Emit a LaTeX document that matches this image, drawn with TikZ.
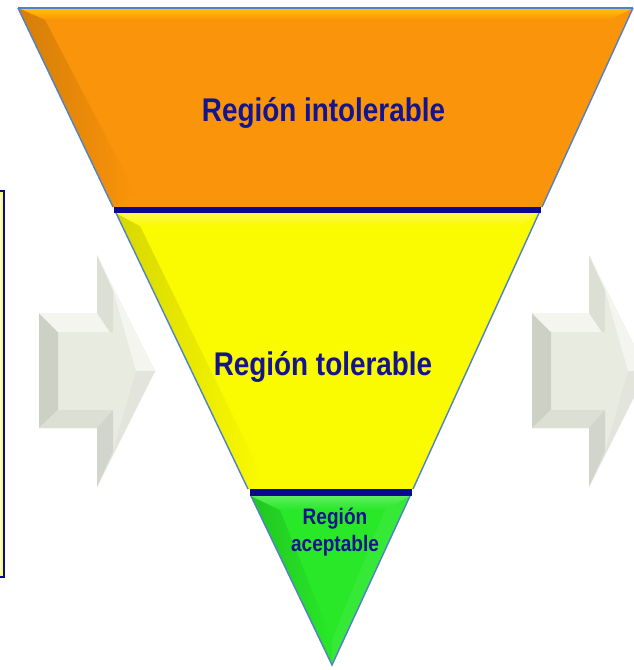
\documentclass[tikz,border=0pt]{standalone}
\usepackage{fontspec}
\newfontfamily\narrowbf{Liberation Sans Bold}[FakeStretch=0.85]
\definecolor{orng}{RGB}{250,148,10}
\definecolor{ylw}{RGB}{250,250,0}
\definecolor{grn}{RGB}{40,232,40}
\definecolor{navy}{RGB}{10,10,140}
\definecolor{txtblue}{RGB}{20,20,140}
\definecolor{edgeblue}{RGB}{80,130,200}
\definecolor{arrmid}{RGB}{232,235,224}
\definecolor{arrlight}{RGB}{243,245,238}
\definecolor{arrdark}{RGB}{205,208,197}
\definecolor{arrside}{RGB}{220,223,212}
\tikzset{
  bigtext/.style={font=\narrowbf\fontsize{32.8}{36}\selectfont, text=txtblue, inner sep=0pt, anchor=base},
  smalltext/.style={font=\narrowbf\fontsize{22.4}{30}\selectfont, text=txtblue, inner sep=0pt, align=center},
  bar/.style={draw=navy, line width=6.5pt},
  edge/.style={draw=edgeblue, line width=1.4pt, line join=miter},
}
\begin{document}
\begin{tikzpicture}[x=1pt,y=-1pt]
\useasboundingbox (0,0) rectangle (634,670);
\clip (0,0) rectangle (634,670);
\fill[white] (0,0) rectangle (634,670);

% left partial box
\draw[draw=navy, line width=1.8pt, fill=ylw!60!white] (-30,191) rectangle (4,577);
\fill[white] (-30,195) rectangle (0.5,573);

% corner coordinates of the triangle
\coordinate (TL) at (18,8);
\coordinate (TR) at (633,8);
\coordinate (AP) at (332,665);
\coordinate (L1) at (113,207);
\coordinate (R1) at (542,207);
\coordinate (L2) at (116,213);
\coordinate (R2) at (539,213);
\coordinate (L3) at (248,489);
\coordinate (R3) at (413,489);
\coordinate (L4) at (251,496);
\coordinate (R4) at (410,496);

% orange band
\fill[orng] (TL) -- (TR) -- (R1) -- (L1) -- cycle;
\shade[top color=orng!55!yellow, bottom color=orng] (TL) -- (TR) -- (610,20) -- (45,20) -- cycle;
\shade[left color=orng!85!black, right color=orng] (TL) -- (45,20) -- (135,192) -- (L1) -- cycle;

% yellow band
\fill[ylw] (L2) -- (R2) -- (R3) -- (L3) -- cycle;
\shade[left color=ylw!86!black, right color=ylw] (L2) -- (140,226) -- (262,475) -- (L3) -- cycle;
\shade[top color=ylw!70!white, bottom color=ylw] (L2) -- (R2) -- (520,226) -- (140,226) -- cycle;

% green band
\fill[grn] (L4) -- (R4) -- (AP) -- cycle;
\shade[left color=grn!85!black, right color=grn] (L4) -- (280,510) -- (332,640) -- (AP) -- cycle;
\shade[top color=grn!75!white, bottom color=grn] (L4) -- (R4) -- (385,510) -- (280,510) -- cycle;
\fill[grn!88!white, opacity=0.6] (R4) -- (385,510) -- (332,640) -- (AP) -- cycle;

% separating bars
\draw[bar] (113.5,210) -- (540.5,210);
\draw[bar] (250,492.5) -- (411.5,492.5);

% triangle outline
\draw[edge] (TL) -- (TR);
\draw[edge] (TL) -- (L1);
\draw[edge] (L2) -- (L3);
\draw[edge] (L4) -- (AP) -- (R4);
\draw[edge] (R3) -- (R2);
\draw[edge] (R1) -- (TR);

% texts
\node[bigtext] (t1) at (323.5,121.7) {Región intolerable};
\node[bigtext] (t2) at (323,375) {Región tolerable};
\node[smalltext] (t3) at (335,532) {Región\\[-3pt]aceptable};

% left 3D arrow
\fill[arrmid] (39,313) -- (97,313) -- (97,255) -- (155,371) -- (97,487) -- (97,428) -- (39,428) -- cycle;
\fill[arrdark] (39,313) -- (58,332) -- (58,410) -- (39,428) -- cycle;
\fill[arrlight] (39,313) -- (97,313) -- (110,332) -- (58,332) -- cycle;
\fill[arrside] (97,313) -- (97,255) -- (113,290) -- (113,332) -- (110,332) -- cycle;
\fill[arrlight] (97,255) -- (155,371) -- (136,371) -- (113,290) -- cycle;
\fill[arrside] (39,428) -- (58,410) -- (113,410) -- (97,428) -- cycle;
\fill[arrdark!90!white] (97,428) -- (113,410) -- (113,452) -- (97,487) -- cycle;
\fill[arrside!80!white] (97,487) -- (113,452) -- (136,371) -- (155,371) -- cycle;

% right 3D arrow
\fill[arrmid] (532,313) -- (589,313) -- (589,255) -- (647,371) -- (589,487) -- (589,428) -- (532,428) -- cycle;
\fill[arrdark] (532,313) -- (551,332) -- (551,410) -- (532,428) -- cycle;
\fill[arrlight] (532,313) -- (589,313) -- (602,332) -- (551,332) -- cycle;
\fill[arrside] (589,313) -- (589,255) -- (605,290) -- (605,332) -- (602,332) -- cycle;
\fill[arrlight] (589,255) -- (647,371) -- (628,371) -- (605,290) -- cycle;
\fill[arrside] (532,428) -- (551,410) -- (605,410) -- (589,428) -- cycle;
\fill[arrdark!90!white] (589,428) -- (605,410) -- (605,452) -- (589,487) -- cycle;
\fill[arrside!80!white] (589,487) -- (605,452) -- (628,371) -- (647,371) -- cycle;
\end{tikzpicture}
\end{document}
